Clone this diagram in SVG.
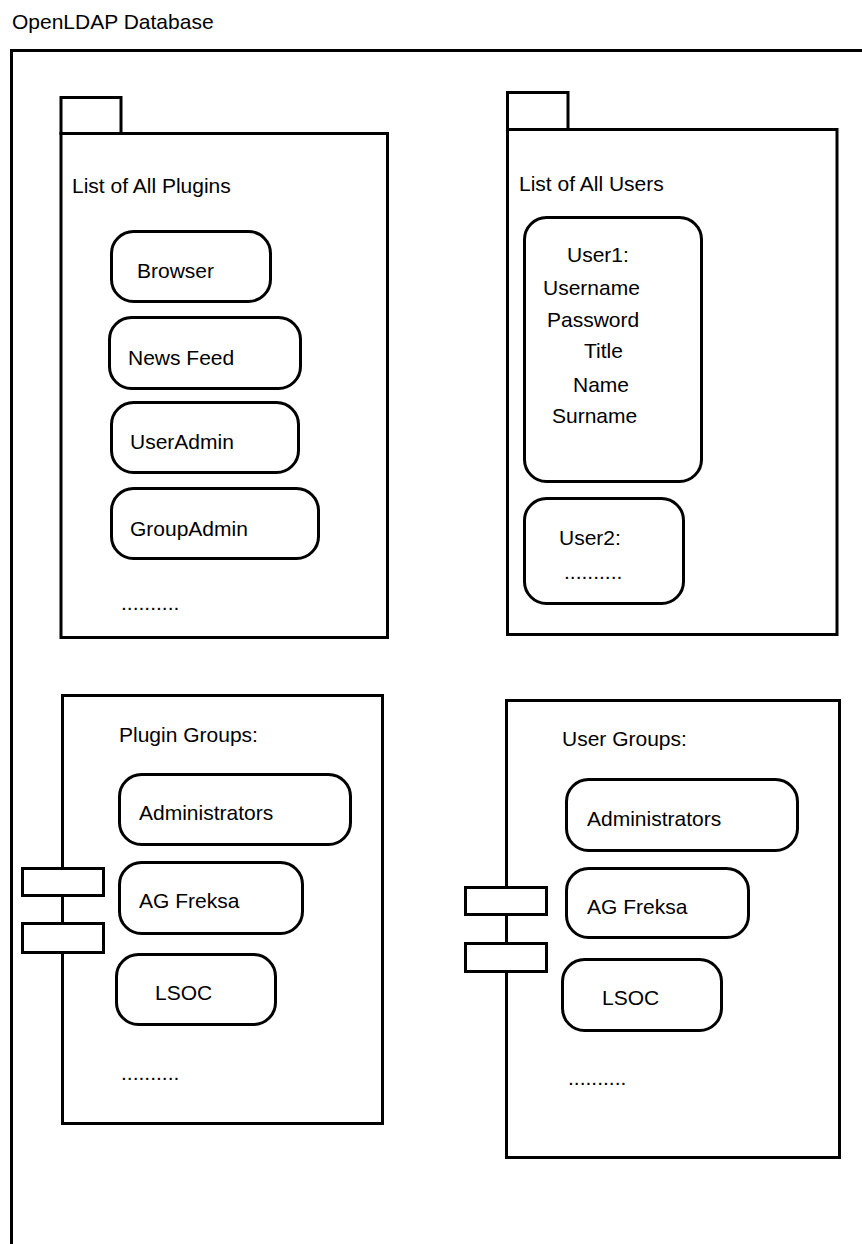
<svg xmlns="http://www.w3.org/2000/svg" width="862" height="1244" viewBox="0 0 862 1244">
<style>
.f{fill:#fff;stroke:#000;stroke-width:3}
.n{fill:none;stroke:#000;stroke-width:3}
.r{fill:#fff;stroke:#000;stroke-width:3}
text{font-family:"Liberation Sans",Arial,sans-serif;font-size:21px;fill:#000}
</style>
<rect width="862" height="1244" fill="#fff"/>
<g id="database">
<path class="n" d="M11.5 1250 V50.5 H870"/>
<text x="12" y="29">OpenLDAP Database</text>
</g>
<g id="plugins">
<rect class="f" x="61" y="97.5" width="60" height="36"/>
<rect class="f" x="61" y="133.5" width="326.5" height="504"/>
<text x="72" y="193">List of All Plugins</text>
</g>
<g id="browser"><rect class="r" x="111.5" y="231.5" width="159" height="70" rx="22"/><text x="137" y="278">Browser</text></g>
<g id="newsfeed"><rect class="r" x="109.5" y="317.5" width="191" height="71" rx="22"/><text x="128" y="365">News Feed</text></g>
<g id="useradmin"><rect class="r" x="111.5" y="402.5" width="187" height="70" rx="22"/><text x="130" y="449">UserAdmin</text></g>
<g id="groupadmin"><rect class="r" x="111.5" y="488.5" width="207" height="70" rx="22"/><text x="130" y="536">GroupAdmin</text></g>
<text x="121" y="610">..........</text>
<g id="users">
<rect class="f" x="507.5" y="92.5" width="60.5" height="37"/>
<rect class="f" x="507.5" y="129.5" width="329.5" height="505"/>
<text x="519" y="191">List of All Users</text>
</g>
<g id="user1"><rect class="r" x="524.5" y="217.5" width="177" height="264" rx="22"/>
<text x="567" y="262">User1:</text>
<text x="543" y="295">Username</text>
<text x="547" y="327">Password</text>
<text x="584" y="358">Title</text>
<text x="573" y="392">Name</text>
<text x="552" y="423">Surname</text>
</g>
<g id="user2"><rect class="r" x="524.5" y="498.5" width="159" height="105" rx="22"/>
<text x="559" y="545">User2:</text>
<text x="564" y="579">..........</text>
</g>
<g id="plugingroups">
<rect class="f" x="62.5" y="695.5" width="320" height="428"/>
<rect class="f" x="22.5" y="868.5" width="81" height="27"/>
<rect class="f" x="22.5" y="923.5" width="81" height="29"/>
<text x="119" y="742">Plugin Groups:</text>
<text x="121" y="1080">..........</text>
</g>
<g id="pg-admins"><rect class="r" x="119.5" y="774.5" width="231" height="70" rx="22"/><text x="139" y="820">Administrators</text></g>
<g id="pg-agfreksa"><rect class="r" x="119.5" y="862.5" width="183" height="71" rx="22"/><text x="139" y="908">AG Freksa</text></g>
<g id="pg-lsoc"><rect class="r" x="116.5" y="954.5" width="159" height="70" rx="22"/><text x="155" y="1000">LSOC</text></g>
<g id="usergroups">
<rect class="f" x="506.5" y="700.5" width="333" height="457"/>
<rect class="f" x="465.5" y="887.5" width="81" height="27"/>
<rect class="f" x="465.5" y="943.5" width="81" height="28"/>
<text x="562" y="746">User Groups:</text>
<text x="568" y="1085">..........</text>
</g>
<g id="ug-admins"><rect class="r" x="566.5" y="779.5" width="231" height="71" rx="22"/><text x="587" y="826">Administrators</text></g>
<g id="ug-agfreksa"><rect class="r" x="566.5" y="868.5" width="182" height="69" rx="22"/><text x="587" y="914">AG Freksa</text></g>
<g id="ug-lsoc"><rect class="r" x="562.5" y="959.5" width="159" height="71" rx="22"/><text x="602" y="1005">LSOC</text></g>
<g id="connectors"/>
</svg>
